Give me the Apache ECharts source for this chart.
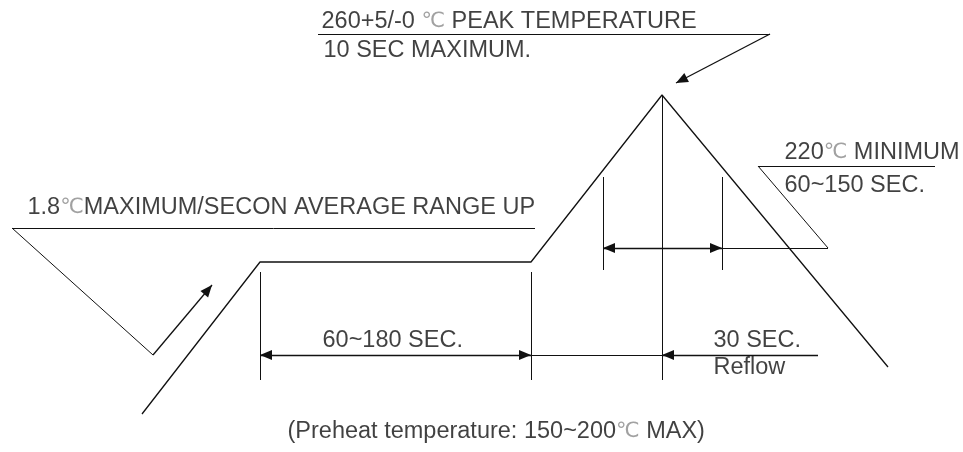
<!DOCTYPE html>
<html>
<head>
<meta charset="utf-8">
<script src="https://cdn.jsdelivr.net/npm/echarts@6/dist/echarts.min.js"></script>
<style>html,body{margin:0;padding:0;background:#fff}#c{width:963px;height:452px}</style>
</head>
<body>
<div id="c"></div>
<script>
// Schematic reflow profile, expressed in diagram units (x: time axis, y: downward-temperature axis)
const profile = [[142,414],[260,262],[531,262],[662,95],[888,367]];

// plain leader / extension lines
const plainLines = [
  [[12,228],[535,228]],
  [[12,228],[153,355]],
  [[318,34],[770,34]],
  [[758,166],[935,166]],
  [[758,166],[828,248]],
  [[722,248],[828,248]],
  [[260,272],[260,380]],
  [[531,272],[531,380]],
  [[662,95],[662,380]],
  [[603,177],[603,270]],
  [[722,177],[722,270]],
  [[531,355],[662,355]]
];
// arrows pointing at the second point
const singleArrows = [
  [[153,355],[212,285]],
  [[770,34],[676,83]],
  [[818,355],[662,355]]
];
// dimension lines with arrows on both ends
const doubleArrows = [
  [[260,355],[531,355]],
  [[603,248],[722,248]]
];
// text labels and their anchor (left edge, vertical middle)
const labelTexts = [
  '260+5/-0 ℃ PEAK TEMPERATURE',
  '10 SEC MAXIMUM.',
  '1.8℃MAXIMUM/SECON AVERAGE RANGE UP',
  '220℃ MINIMUM',
  '60~150 SEC.',
  '60~180 SEC.',
  '30 SEC.',
  'Reflow',
  '(Preheat temperature: 150~200℃ MAX)'
];
const labelAnchors = [
  [321,22],[323,51],[27,208],[784,153],[784,186],[322,341],[713,341],[713,368],[287,432]
];

const FONT = 'Arial, "Liberation Sans", sans-serif';
const INK = '#111';
// filled arrowhead whose tip sits at the centre of its symbol box
const HEAD_PATH = 'path://M-12,-12 M12,12 M0,0 L5,12 L-5,12 Z';
const HEAD_SIZE = 24;

const chart = echarts.init(document.getElementById('c'));
chart.setOption({
  animation: false,
  backgroundColor: '#fff',
  grid: {left: 0, right: 0, top: 0, bottom: 0},
  xAxis: {type: 'value', min: 0, max: 963, show: false},
  yAxis: {type: 'value', min: 0, max: 452, inverse: true, show: false},
  series: [
    {
      type: 'line',
      data: profile,
      symbol: 'none',
      lineStyle: {color: INK, width: 1.3}
    },
    {
      type: 'lines',
      coordinateSystem: 'cartesian2d',
      data: plainLines.map(c => ({coords: c})),
      symbol: ['none','none'],
      lineStyle: {color: INK, width: 1, opacity: 1}
    },
    {
      type: 'lines',
      coordinateSystem: 'cartesian2d',
      data: singleArrows.map(c => ({coords: c})),
      symbol: ['none', HEAD_PATH],
      symbolSize: HEAD_SIZE,
      lineStyle: {color: INK, width: 1.3, opacity: 1}
    },
    {
      type: 'lines',
      coordinateSystem: 'cartesian2d',
      data: doubleArrows.map(c => ({coords: c})),
      symbol: [HEAD_PATH, HEAD_PATH],
      symbolSize: HEAD_SIZE,
      lineStyle: {color: INK, width: 1.3, opacity: 1}
    },
    {
      type: 'scatter',
      symbolSize: 1,
      itemStyle: {color: 'rgba(0,0,0,0)'},
      data: labelTexts.map((t, i) => ({value: labelAnchors[i], name: t})),
      label: {
        show: true,
        position: 'right',
        distance: 0,
        formatter: p => p.name.replace('℃', '{c|℃}'),
        fontFamily: FONT,
        fontSize: 23.5,
        color: INK,
        align: 'left',
        verticalAlign: 'middle',
        rich: {
          c: {fontFamily: '"DejaVu Sans", sans-serif', fontSize: 21, color: '#8a8a8a', verticalAlign: 'middle'}
        }
      }
    }
  ]
});
</script>
</body>
</html>
